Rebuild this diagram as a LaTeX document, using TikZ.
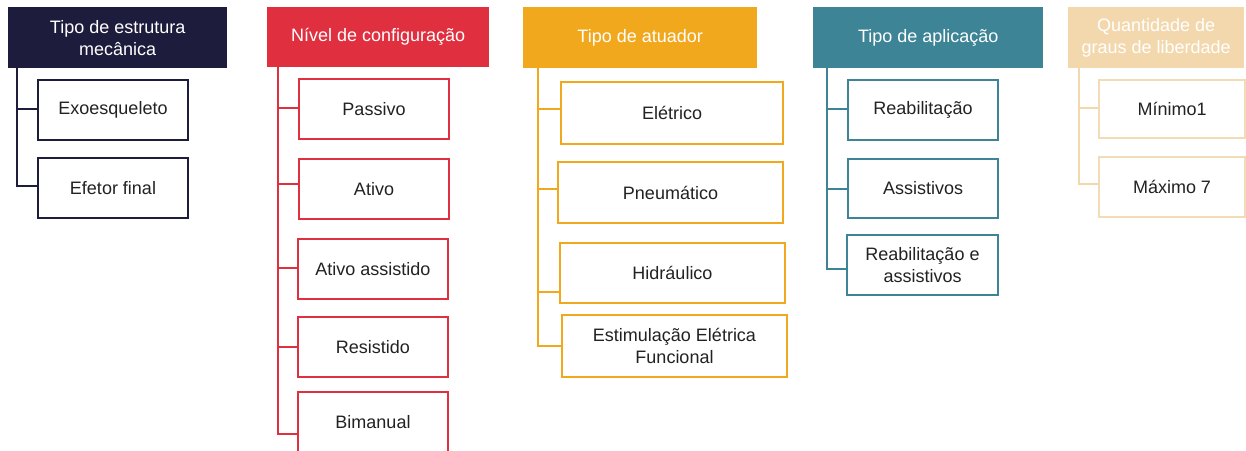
\documentclass[tikz,border=0pt]{standalone}
\usepackage{fontspec}
\setmainfont{Liberation Sans}
\definecolor{cnavy}{HTML}{1E1C3C}
\definecolor{cred}{HTML}{E0303F}
\definecolor{corange}{HTML}{F2A81D}
\definecolor{cteal}{HTML}{3C8496}
\definecolor{ctan}{HTML}{F3D8AE}
\definecolor{ctanline}{HTML}{F2DCB6}
\definecolor{ctext}{HTML}{222222}
\begin{document}
\begin{tikzpicture}[x=1pt,y=-1pt,
  hdr/.style={fill=#1, draw=none, text=white, align=center, anchor=north west, inner sep=0pt,
    font=\fontsize{18}{22}\selectfont},
  child/.style={draw=#1, line width=2pt, fill=white, text=ctext, align=center, anchor=north west,
    inner sep=0pt, minimum height=60pt, font=\fontsize{18}{22}\selectfont},
  conn/.style={draw=#1, line width=2pt}
]
\useasboundingbox[fill=white] (0,0) rectangle (1246,450);

% Column 1
\node[hdr=cnavy, minimum width=219pt, minimum height=61pt] (h1) at (8,7) {Tipo de estrutura\\mecânica};
\node[child=cnavy, minimum width=150pt] (a1) at (37,79) {Exoesqueleto};
\node[child=cnavy, minimum width=150pt] (a2) at (37,157) {Efetor final};
\coordinate (t1) at (17,68);
\draw[conn=cnavy] (t1) |- ([yshift=1pt]a1.west);
\draw[conn=cnavy] (t1) |- ([yshift=2pt]a2.west);

% Column 2
\node[hdr=cred, minimum width=222pt, minimum height=60pt] (h2) at (267,7) {Nível de configuração};
\node[child=cred, minimum width=150pt] (b1) at (298,78) {Passivo};
\node[child=cred, minimum width=150pt] (b2) at (298,158) {Ativo};
\node[child=cred, minimum width=150pt] (b3) at (297,238) {Ativo assistido};
\node[child=cred, minimum width=150pt] (b4) at (297,316) {Resistido};
\node[child=cred, minimum width=150pt] (b5) at (297,391) {Bimanual};
\coordinate (t2) at (278,67);
\draw[conn=cred] (t2) |- ([yshift=1pt]b1.west);
\draw[conn=cred] (t2) |- ([yshift=5pt]b2.west);
\draw[conn=cred] (t2) |- ([yshift=1pt]b3.west);
\draw[conn=cred] (t2) |- (b4.west);
\draw[conn=cred] (t2) |- ([yshift=-12pt]b5.west);

% Column 3
\node[hdr=corange, minimum width=234pt, minimum height=61pt] (h3) at (523,7) {Tipo de atuador};
\node[child=corange, minimum width=222pt, minimum height=62pt] (c1) at (560,81) {Elétrico};
\node[child=corange, minimum width=225pt, minimum height=61pt] (c2) at (557,161) {Pneumático};
\node[child=corange, minimum width=225pt] (c3) at (559,242) {Hidráulico};
\node[child=corange, minimum width=225pt, minimum height=62pt] (c4) at (561,314) {Estimulação Elétrica\\Funcional};
\coordinate (t3) at (538,68);
\draw[conn=corange] (t3) |- ([yshift=4pt]c1.west);
\draw[conn=corange] (t3) |- ([yshift=4pt]c2.west);
\draw[conn=corange] (t3) |- ([yshift=-19pt]c3.west);
\draw[conn=corange] (t3) |- (c4.west);

% Column 4
\node[hdr=cteal, minimum width=230pt, minimum height=61pt] (h4) at (813,7) {Tipo de aplicação};
\node[child=cteal, minimum width=150pt] (d1) at (847,79) {Reabilitação};
\node[child=cteal, minimum width=150pt, minimum height=59pt] (d2) at (847,158) {Assistivos};
\node[child=cteal, minimum width=151pt] (d3) at (846,234) {Reabilitação e\\assistivos};
\coordinate (t4) at (827,68);
\draw[conn=cteal] (t4) |- ([yshift=1pt]d1.west);
\draw[conn=cteal] (t4) |- (d2.west);
\draw[conn=cteal] (t4) |- ([yshift=-4pt]d3.west);

% Column 5
\node[hdr=ctan, minimum width=176pt, minimum height=61pt] (h5) at (1068,7) {Quantidade de\\graus de liberdade};
\node[child=ctanline, minimum width=146pt, minimum height=58pt] (e1) at (1098,79) {Mínimo1};
\node[child=ctanline, minimum width=146pt] (e2) at (1098,156) {Máximo 7};
\coordinate (t5) at (1079,68);
\draw[conn=ctan] (t5) |- ([yshift=1pt]e1.west);
\draw[conn=ctan] (t5) |- ([yshift=3pt]e2.west);
\end{tikzpicture}
\end{document}
